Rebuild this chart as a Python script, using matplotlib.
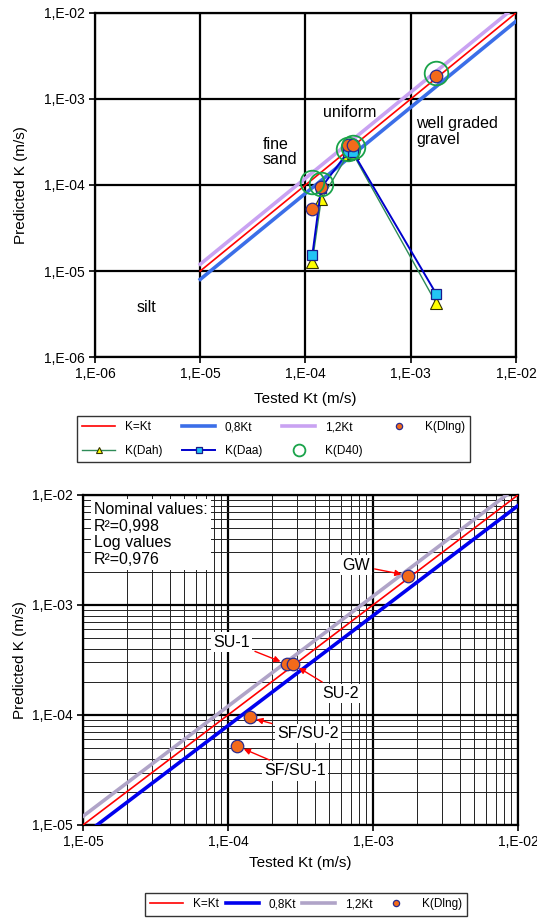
import matplotlib
matplotlib.use("Agg")
import matplotlib.pyplot as plt
import numpy as np
from matplotlib.ticker import FuncFormatter, LogLocator, NullFormatter

plt.rcParams["font.family"] = ["Liberation Sans", "DejaVu Sans"]

# ── Data ───────────────────────────────────────────────────────────────────────
kt_tested = [1.16e-4, 1.41e-4, 2.55e-4, 2.8e-4, 1.75e-3]
k_dlng    = [5.2e-5, 9.5e-5, 2.9e-4, 2.9e-4, 1.85e-3]
k_dah     = [1.27e-5, 6.8e-5, 2.3e-4, 2.35e-4, 4.2e-6]
k_daa     = [1.52e-5, 9.3e-5, 2.45e-4, 2.45e-4, 5.4e-6]
k_d40     = [1.08e-4, 1.03e-4, 2.6e-4, 2.75e-4, 2.0e-3]
ref_x     = [1e-5, 1e-2]
point_names = ["SF/SU-1", "SF/SU-2", "SU-1", "SU-2", "GW"]
# label anchor (x, y) in data units for the lower chart
label_pos = [(2.9e-4, 3.1e-5), (3.55e-4, 6.8e-5), (1.06e-4, 4.6e-4),
             (6.0e-4, 1.57e-4), (7.6e-4, 2.3e-3)]
r2_text = "Nominal values:\nR²=0,998\nLog values\nR²=0,976"

ORANGE = "#f26a1b"
EDGE = "#2b2b8c"
FS = 11.5


def sci_fmt(v, _):
    e = int(round(np.log10(v)))
    return "1,E-%02d" % -e if e < 0 else "1,E+%02d" % e


def style_axes(ax, xlim, ylim, minor, ylab_x, xlab_y):
    ax.set_xscale("log")
    ax.set_yscale("log")
    ax.set_xlim(*xlim)
    ax.set_ylim(*ylim)
    ax.xaxis.set_major_locator(LogLocator(base=10))
    ax.yaxis.set_major_locator(LogLocator(base=10))
    ax.xaxis.set_major_formatter(FuncFormatter(sci_fmt))
    ax.yaxis.set_major_formatter(FuncFormatter(sci_fmt))
    ax.xaxis.set_minor_formatter(NullFormatter())
    ax.yaxis.set_minor_formatter(NullFormatter())
    ax.tick_params(which="major", length=4, width=1.2, labelsize=10, direction="out")
    ax.tick_params(which="minor", length=0)
    ax.grid(True, which="major", color="black", lw=1.6)
    if minor:
        ax.grid(True, which="minor", color="#222222", lw=0.7)
    for s in ax.spines.values():
        s.set_linewidth(1.6)
    ax.set_xlabel("Tested Kt (m/s)", fontsize=11)
    ax.set_ylabel("Predicted K (m/s)", fontsize=11)
    ax.yaxis.set_label_coords(ylab_x, 0.5)
    ax.xaxis.set_label_coords(0.5, xlab_y)


def legend_box(handles, labels, bbox, **kw):
    leg = fig.legend(handles, labels, ncol=4, mode="expand", bbox_to_anchor=bbox,
                     loc="upper left", fontsize=8.5, frameon=True, fancybox=False,
                     edgecolor="black", handlelength=2.8, markerscale=0.5,
                     borderaxespad=0, **kw)
    leg.get_frame().set_linewidth(1.0)
    return leg


fig = plt.figure(figsize=(5.37, 9.19), dpi=100)

# ── Top chart ──────────────────────────────────────────────────────────────────
ax1 = fig.add_axes([0.1769, 0.6115, 0.784, 0.3744])
style_axes(ax1, (1e-6, 1e-2), (1e-6, 1e-2), False, -0.16, -0.102)
rx = np.array(ref_x)
ax1.plot(rx, rx, color="red", lw=1.2, label="K=Kt", zorder=3)
ax1.plot(rx, 0.8 * rx, color="#3b6ee8", lw=2.6, label="0,8Kt", zorder=3)
ax1.plot(rx, 1.2 * rx, color="#c9a2f2", lw=2.6, label="1,2Kt", zorder=3)
ax1.plot(kt_tested, k_dah, color="#2e8b57", lw=1, marker="^", ms=8,
         mfc="#ffff00", mec="#333300", mew=0.8, label="K(Dah)", zorder=4)
ax1.plot(kt_tested, k_daa, color="#0000cc", lw=1.4, marker="s", ms=7.5,
         mfc="#22c4f5", mec="#1a1a8c", mew=0.9, label="K(Daa)", zorder=5)
ax1.plot(kt_tested, k_dlng, ls="none", marker="o", ms=9,
         mfc=ORANGE, mec=EDGE, mew=0.9, label="K(Dlng)", zorder=6)
ax1.plot(kt_tested, k_d40, ls="none", marker="o", ms=17,
         mfc="none", mec="#1aa34a", mew=1.3, label="K(D40)", zorder=7)

ax1.text(2.47e-6, 4.6e-6, "silt", fontsize=FS, va="top")
ax1.text(3.9e-5, 3.6e-4, "fine\nsand", fontsize=FS, va="top", linespacing=0.95)
ax1.text(1.47e-4, 8.6e-4, "uniform", fontsize=FS, va="top")
ax1.text(1.12e-3, 6.4e-4, "well graded\ngravel", fontsize=FS, va="top",
         linespacing=1.1)

h, l = ax1.get_legend_handles_labels()
hmap = dict(zip(l, h))
# column-major order so rows read K=Kt, 0,8Kt, 1,2Kt, K(Dlng) / K(Dah), K(Daa), K(D40)
order = ["K=Kt", "K(Dah)", "0,8Kt", "K(Daa)", "1,2Kt", "K(D40)", "K(Dlng)"]
legend_box([hmap[k] for k in order], order, (0.1434, 0.4973, 0.732, 0.05),
           labelspacing=1.0, borderpad=0.45)

# ── Bottom chart ───────────────────────────────────────────────────────────────
ax2 = fig.add_axes([0.1546, 0.1023, 0.810, 0.3591])
style_axes(ax2, (1e-5, 1e-2), (1e-5, 1e-2), True, -0.129, -0.094)
ax2.plot(rx, rx, color="red", lw=1.2, label="K=Kt", zorder=3)
ax2.plot(rx, 0.8 * rx, color="#0000ee", lw=2.6, label="0,8Kt", zorder=3)
ax2.plot(rx, 1.2 * rx, color="#b0a4c8", lw=2.6, label="1,2Kt", zorder=3)
ax2.plot(kt_tested, k_dlng, ls="none", marker="o", ms=9,
         mfc=ORANGE, mec=EDGE, mew=0.9, label="K(Dlng)", zorder=6)

for name, (tx, ty), px, py in zip(point_names, label_pos, kt_tested, k_dlng):
    ax2.annotate(name, xy=(px, py), xytext=(tx, ty), fontsize=FS,
                 ha="center", va="center", zorder=8,
                 bbox=dict(boxstyle="square,pad=0.15", fc="white", ec="none"),
                 arrowprops=dict(arrowstyle="-|>", color="red", lw=1,
                                 mutation_scale=9, shrinkA=2, shrinkB=5))

ax2.text(0.025, 0.978, r2_text, transform=ax2.transAxes, fontsize=FS,
         va="top", ha="left", linespacing=1.12, zorder=8,
         bbox=dict(boxstyle="square,pad=0.2", fc="white", ec="none"))

legend_box(*ax2.get_legend_handles_labels(), (0.27, -0.01, 0.6, 0.0383),
           columnspacing=0.8, borderpad=0.45)

fig.savefig("out.png", dpi=100)
plt.close(fig)
